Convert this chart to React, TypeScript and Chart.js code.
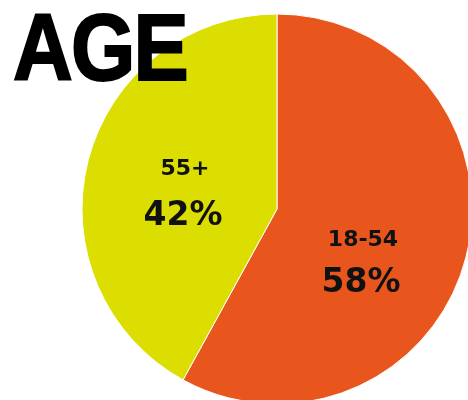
import React, { useEffect, useRef } from "react";
import { Chart, registerables } from "chart.js";

Chart.register(...registerables);

const categories: string[] = ["18-54", "55+"];
const values: number[] = [58, 42];
const valueLabels: string[] = ["58%", "42%"];
const sliceColors: string[] = ["#E8561E", "#DCDD00"];
const titleText = "AGE";

export default function App() {
  const canvasRef = useRef<HTMLCanvasElement>(null);

  useEffect(() => {
    if (!canvasRef.current) return;

    // label placement relative to the pie centre (px): [dx, baselineDy]
    const namePos: number[][] = [[86, 37], [-92, -34]];
    const valuePos: number[][] = [[84, 83], [-94, 16]];

    const sliceLabels = {
      id: "sliceLabels",
      afterDatasetsDraw(chart: any) {
        const ctx = chart.ctx as CanvasRenderingContext2D;
        const meta = chart.getDatasetMeta(0);
        ctx.save();
        ctx.fillStyle = "#111111";
        ctx.textAlign = "center";
        ctx.textBaseline = "alphabetic";
        meta.data.forEach((arc: any, i: number) => {
          const cx = arc.x;
          const cy = arc.y;
          ctx.font = "bold 22px 'DejaVu Sans'";
          ctx.fillText(chart.data.labels[i], cx + namePos[i][0], cy + namePos[i][1]);
          ctx.font = "bold 33px 'DejaVu Sans'";
          ctx.fillText(valueLabels[i], cx + valuePos[i][0], cy + valuePos[i][1]);
        });
        ctx.restore();
      },
    };

    const chart = new Chart(canvasRef.current, {
      type: "pie",
      data: {
        labels: categories,
        datasets: [
          {
            data: values,
            backgroundColor: sliceColors,
            borderColor: "#FFFFFF",
            borderWidth: 1,
            radius: 195,
          } as any,
        ],
      },
      options: {
        responsive: false,
        animation: false,
        devicePixelRatio: 1,
        events: [],
        layout: { padding: 0 },
        plugins: {
          legend: { display: false },
          tooltip: { enabled: false },
          title: { display: false },
        },
      },
      plugins: [sliceLabels],
    });

    return () => chart.destroy();
  }, []);

  return (
    <div
      style={{
        position: "absolute",
        left: 0,
        top: 0,
        width: 468,
        height: 400,
        overflow: "hidden",
        background: "#FFFFFF",
      }}
    >
      <canvas
        ref={canvasRef}
        width={554}
        height={418}
        style={{ position: "absolute", left: 0, top: 0, width: 554, height: 418 }}
      />
      <div
        style={{
          position: "absolute",
          left: 13,
          top: 1,
          font: "bold 94px 'Liberation Sans'",
          lineHeight: "94px",
          letterSpacing: "-2px",
          color: "#000000",
          WebkitTextStroke: "2px #000000",
          transform: "scaleX(0.88)",
          transformOrigin: "left top",
          whiteSpace: "nowrap",
        }}
      >
        {titleText}
      </div>
    </div>
  );
}
